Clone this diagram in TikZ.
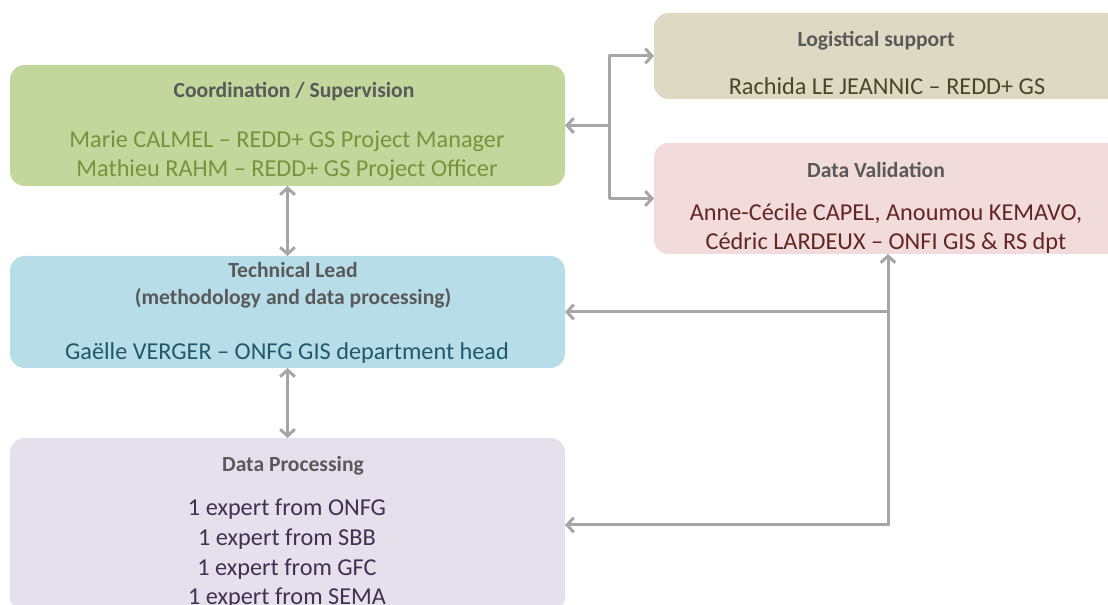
\documentclass[tikz,border=0pt]{standalone}
\usepackage{fontspec}
\setmainfont{Carlito}
\usetikzlibrary{arrows.meta}
\definecolor{coordfill}{HTML}{C3D69B}
\definecolor{coordtext}{HTML}{77933C}
\definecolor{logifill}{HTML}{DDD9C3}
\definecolor{logitext}{HTML}{4A452A}
\definecolor{validfill}{HTML}{F2DCDB}
\definecolor{validtext}{HTML}{632523}
\definecolor{techfill}{HTML}{B7DEE8}
\definecolor{techtext}{HTML}{215968}
\definecolor{procfill}{HTML}{E6E0EC}
\definecolor{proctext}{HTML}{3F3151}
\definecolor{titlegray}{HTML}{595959}
\definecolor{linkgray}{HTML}{A6A6A6}
\begin{document}
\begin{tikzpicture}[x=0.75pt,y=-0.75pt,
    box/.style={rounded corners=11pt,inner sep=0pt,outer sep=0pt},
    title/.style={font=\bfseries\fontsize{16.2}{20}\selectfont,text=titlegray,align=center},
    names/.style={font=\fontsize{18.2}{21.75}\selectfont,align=center},
    link/.style={draw=linkgray,line width=2.25pt,line cap=round,line join=round},
    tip/.style={-{Straight Barb[length=5pt,width=11pt]}},
    tips/.style={{Straight Barb[length=5pt,width=11pt]}-{Straight Barb[length=5pt,width=11pt]}}]
    \useasboundingbox (0,0) rectangle (1108,605);
    \clip (0,0) rectangle (1108,605);
    % boxes
    \node[box,fill=coordfill,minimum width=416.25pt,minimum height=90.75pt] (coord) at (287.5,125.5) {};
    \node[box,fill=logifill,minimum width=351pt,minimum height=64.5pt] (logi) at (888,56) {};
    \node[box,fill=validfill,minimum width=351pt,minimum height=83.25pt] (valid) at (888,198.5) {};
    \node[box,fill=techfill,minimum width=416.25pt,minimum height=84pt] (tech) at (287.5,312) {};
    \node[box,fill=procfill,minimum width=416.25pt,minimum height=130.5pt] (proc) at (287.5,525) {};
    % texts
    \node[title] (coordtitle) at (294,92) {Coordination / Supervision};
    \node[names,text=coordtext] (coordnames) at (287,156) {Marie CALMEL -- REDD+ GS Project Manager\\Mathieu RAHM -- REDD+ GS Project Officer};
    \node[title] (logititle) at (876,41) {Logistical support};
    \node[names,text=logitext] (loginames) at (887,86) {Rachida LE JEANNIC -- REDD+ GS};
    \node[title] (validtitle) at (876,170) {Data Validation};
    \node[names,text=validtext] (validnames) at (886,229) {Anne-Cécile CAPEL, Anoumou KEMAVO,\\Cédric LARDEUX -- ONFI GIS \& RS dpt};
    \node[title] (techtitle) at (293,285) {Technical Lead\\(methodology and data processing)};
    \node[names,text=techtext] (technames) at (287,353) {Gaëlle VERGER -- ONFG GIS department head};
    \node[title] (proctitle) at (293,466) {Data Processing};
    \node[names,text=proctext,font=\fontsize{18.2}{22.2}\selectfont] (procnames) at (287,554) {1 expert from ONFG\\1 expert from SBB\\1 expert from GFC\\1 expert from SEMA};
    % connectors
    \coordinate (split) at (609,125.5);
    \draw[link,tip] (split) -- (coord.east);
    \draw[link,tip] (split) |- (logi.west);
    \draw[link,tip] (split) |- (valid.west);
    \draw[link,tips] (coord.south) -- (tech.north);
    \draw[link,tips] (tech.south) -- (proc.north);
    \coordinate (hub) at (valid.south |- proc.east);
    \draw[link,tip] (hub) -- (valid.south);
    \draw[link,tip] (hub) -- (proc.east);
    \draw[link,tip] (valid.south |- tech.east) -- (tech.east);
\end{tikzpicture}
\end{document}
